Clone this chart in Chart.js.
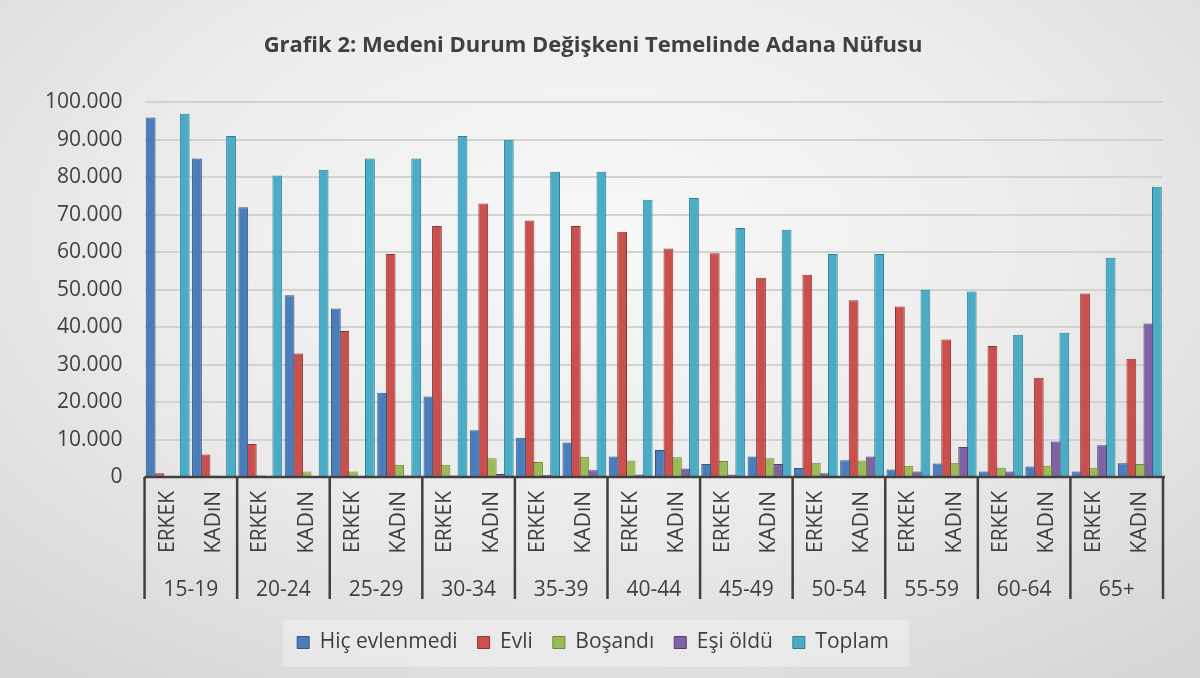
<!DOCTYPE html>
<html>
<head>
<meta charset="utf-8">
<style>
  html, body { margin: 0; padding: 0; }
  body {
    width: 1200px; height: 678px; overflow: hidden;
    background: radial-gradient(ellipse 75% 80% at 50% 35%, #f8f8f8 0%, #ececec 50%, #d6d6d6 100%);
  }
  canvas { display: block; }
</style>
</head>
<body>
<canvas id="myChart" width="1200" height="678"></canvas>

<script src="https://cdn.jsdelivr.net/npm/chart.js/dist/chart.umd.min.js"></script>
<script>
// setup
const ageGroups = ['15-19', '20-24', '25-29', '30-34', '35-39', '40-44', '45-49', '50-54', '55-59', '60-64', '65+'];
const sexes = ['ERKEK', 'KADıN'];
const categories = ageGroups.flatMap(() => sexes);

// values, order: ERKEK, KADıN per age group
const hicEvlenmedi = [96000, 85000, 72000, 48500, 45000, 22500, 21500, 12500, 10500, 9200, 5500, 7200, 3500, 5500, 2400, 4500, 2000, 3600, 1500, 2800, 1500, 3700];
const evli         = [1000, 6000, 8800, 33000, 39000, 59500, 67000, 73000, 68500, 67000, 65500, 61000, 59700, 53200, 54000, 47200, 45500, 36700, 35000, 26500, 49000, 31600];
const bosandi      = [300, 400, 500, 1500, 1500, 3300, 3300, 5000, 4000, 5400, 4400, 5300, 4300, 5000, 3800, 4400, 3000, 3800, 2500, 3000, 2500, 3500];
const esiOldu      = [0, 100, 100, 200, 200, 400, 400, 800, 600, 1800, 700, 2300, 700, 3500, 1000, 5500, 1500, 8000, 1500, 9500, 8500, 41000];
const toplam       = [97000, 91000, 80500, 82000, 85000, 85000, 91000, 90000, 81500, 81500, 74000, 74500, 66500, 66000, 59500, 59500, 50000, 49500, 38000, 38500, 58500, 77500];

const yTicks = [0, 10000, 20000, 30000, 40000, 50000, 60000, 70000, 80000, 90000, 100000];

const FONT = '"Open Sans", Lato, "Liberation Sans", sans-serif';
Chart.defaults.font.family = FONT;
Chart.defaults.color = '#404040';

function fmt(v) {
  return String(v).replace(/\B(?=(\d{3})+(?!\d))/g, '.');
}

function ds(label, data, fill, border) {
  return {
    label, data,
    backgroundColor: fill,
    borderColor: border,
    borderWidth: 1,
    barPercentage: 1.15,
    categoryPercentage: 0.92
  };
}

const data = {
  labels: categories,
  datasets: [
    ds('Hiç evlenmedi', hicEvlenmedi, '#4a7ebb', '#2f5788'),
    ds('Evli', evli, '#c9504c', '#8c3533'),
    ds('Boşandı', bosandi, '#9bbb59', '#6b8a33'),
    ds('Eşi öldü', esiOldu, '#7f62a1', '#523e70'),
    ds('Toplam', toplam, '#4bacc6', '#2b7f96')
  ]
};

// group labels + dividers under the x axis
const groupAxis = {
  id: 'groupAxis',
  afterDraw(chart) {
    const x = chart.scales.x;
    const ctx = chart.ctx;
    const top = chart.chartArea.bottom;
    const bottom = x.bottom - 13;
    const edges = [x.left];
    for (let k = 1; k < ageGroups.length; k++) {
      edges.push((x.getPixelForValue(2 * k - 1) + x.getPixelForValue(2 * k)) / 2);
    }
    edges.push(x.right);
    ctx.save();
    ctx.strokeStyle = '#404040';
    ctx.lineWidth = 2.5;
    edges.forEach(px => {
      ctx.beginPath();
      ctx.moveTo(px, top);
      ctx.lineTo(px, bottom);
      ctx.stroke();
    });
    ctx.beginPath();
    ctx.moveTo(x.left, top);
    ctx.lineTo(x.right + 2, top);
    ctx.stroke();
    ctx.fillStyle = '#404040';
    ctx.font = '21px ' + FONT;
    ctx.textAlign = 'center';
    ctx.textBaseline = 'middle';
    ageGroups.forEach((g, i) => {
      ctx.fillText(g, (edges[i] + edges[i + 1]) / 2, x.bottom - 22);
    });
    ctx.restore();
  }
};

// soft box behind legend
const legendBox = {
  id: 'legendBox',
  beforeDraw(chart) {
    const hb = chart.legend && chart.legend.legendHitBoxes;
    if (!hb || !hb.length) return;
    const l = Math.min(...hb.map(b => b.left));
    const r = Math.max(...hb.map(b => b.left + b.width));
    const t = Math.min(...hb.map(b => b.top));
    const b = Math.max(...hb.map(b => b.top + b.height));
    const ctx = chart.ctx;
    ctx.save();
    ctx.fillStyle = 'rgba(240,240,240,0.55)';
    ctx.fillRect(l - 14, t - 12, r - l + 34, b - t + 26);
    ctx.restore();
  }
};

const config = {
  type: 'bar',
  data,
  options: {
    responsive: false,
    animation: false,
    layout: { padding: { left: 23, right: 37, bottom: 15 } },
    plugins: {
      tooltip: { enabled: false },
      title: {
        display: true,
        text: 'Grafik 2: Medeni Durum Değişkeni Temelinde Adana Nüfusu',
        font: { size: 22, weight: 'bold' },
        color: '#404040',
        padding: { top: 33, bottom: 43 }
      },
      legend: {
        position: 'bottom',
        labels: {
          boxWidth: 12,
          boxHeight: 12,
          padding: 20,
          font: { size: 21 },
          color: '#404040'
        }
      }
    },
    scales: {
      x: {
        grid: { display: false },
        border: { display: false },
        ticks: {
          autoSkip: false,
          minRotation: 90,
          maxRotation: 90,
          padding: 6,
          font: { size: 21 },
          color: '#404040'
        },
        afterFit(scale) { scale.height = 135; }
      },
      y: {
        min: 0,
        max: 100000,
        afterBuildTicks(scale) { scale.ticks = yTicks.map(v => ({ value: v })); },
        grid: { color: '#d2d2d2', lineWidth: 2, drawTicks: false },
        border: { display: false },
        ticks: {
          padding: 22,
          font: { size: 21 },
          color: '#404040',
          callback: v => fmt(v)
        }
      }
    }
  },
  plugins: [legendBox, groupAxis]
};

// render init block
const myChart = new Chart(document.getElementById('myChart'), config);
</script>
</body>
</html>
